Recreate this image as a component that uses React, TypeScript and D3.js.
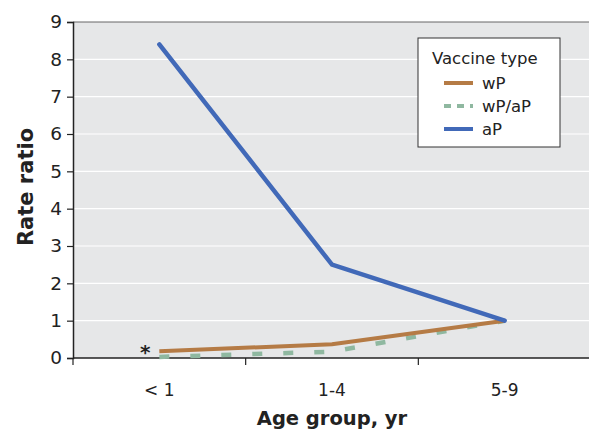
import React, { useEffect, useRef } from 'react';
import * as d3 from 'd3';

const ageGroups = ['< 1', '1-4', '5-9'];
const wP = [0.18, 0.37, 1.0];
const wPaP = [0.03, 0.17, 1.0];
const aP = [8.4, 2.5, 1.0];
const yTicks = [0, 1, 2, 3, 4, 5, 6, 7, 8, 9];
const legendItems = ['wP', 'wP/aP', 'aP'];

function App() {
  const svgRef = useRef<SVGSVGElement>(null);

  useEffect(() => {
    const svg = d3.select(svgRef.current);
    svg.selectAll('*').remove();

    const width = 589;
    const height = 432;
    const margin = { top: 22, right: 0, bottom: 74, left: 73 };
    const innerWidth = width - margin.left - margin.right;
    const innerHeight = height - margin.top - margin.bottom;
    const font = 'DejaVu Sans, sans-serif';

    const g = svg.append('g').attr('transform', `translate(${margin.left},${margin.top})`);

    const x = d3.scaleBand().domain(ageGroups).range([0, 518]);
    const y = d3.scaleLinear().domain([0, 9]).range([innerHeight, 0]);

    // plot background
    g.append('rect')
      .attr('width', innerWidth)
      .attr('height', innerHeight)
      .attr('fill', '#e6e7e8');
    g.append('line')
      .attr('x1', 0).attr('x2', innerWidth)
      .attr('y1', 0).attr('y2', 0)
      .attr('stroke', '#666').attr('stroke-width', 1);

    // gridlines
    g.selectAll('.grid')
      .data(yTicks.filter(d => d > 0 && d < 9))
      .enter()
      .append('line')
      .attr('x1', 0).attr('x2', innerWidth)
      .attr('y1', d => y(d)).attr('y2', d => y(d))
      .attr('stroke', '#fff').attr('stroke-width', 1.2);

    // y axis
    const yAxis = g.append('g').call(d3.axisLeft(y).tickValues(yTicks).tickSize(6).tickFormat(d3.format('d')));
    yAxis.select('.domain').attr('stroke', '#222').attr('stroke-width', 1.5);
    yAxis.selectAll('.tick line').attr('stroke', '#222').attr('stroke-width', 1.2);
    yAxis.selectAll('.tick text').attr('font-family', font).attr('font-size', 18.5).attr('fill', '#222').attr('x', -11);

    // x axis
    const xAxis = g.append('g')
      .attr('transform', `translate(0,${innerHeight})`)
      .call(d3.axisBottom(x).tickSize(0).tickSizeOuter(0));
    xAxis.select('.domain').attr('stroke', '#222').attr('stroke-width', 1.5).attr('d', `M0,0H${innerWidth}`);
    xAxis.selectAll('.tick text').attr('font-family', font).attr('font-size', 17).attr('fill', '#222')
      .attr('y', 26).attr('dy', '0.71em');
    // category separators
    xAxis.selectAll('.sep')
      .data(ageGroups.slice(1))
      .enter()
      .append('line')
      .attr('x1', d => x(d)!).attr('x2', d => x(d)!)
      .attr('y1', 0).attr('y2', 7)
      .attr('stroke', '#222').attr('stroke-width', 1.2);
    xAxis.append('line')
      .attr('x1', 0).attr('x2', 0).attr('y1', 0).attr('y2', 7)
      .attr('stroke', '#222').attr('stroke-width', 1.2);

    const line = d3.line<number>()
      .x((d, i) => x(ageGroups[i])! + x.bandwidth() / 2)
      .y(d => y(d));

    g.append('path').datum(wPaP).attr('fill', 'none')
      .attr('stroke', '#8fb8a0').attr('stroke-width', 4.5).attr('stroke-dasharray', '10,21')
      .attr('d', line);
    g.append('path').datum(wP).attr('fill', 'none')
      .attr('stroke', '#b57b45').attr('stroke-width', 4)
      .attr('d', line);
    g.append('path').datum(aP).attr('fill', 'none')
      .attr('stroke', '#4169b8').attr('stroke-width', 4.5).attr('stroke-linecap', 'round')
      .attr('d', line);

    // asterisk
    g.append('text')
      .attr('x', x(ageGroups[0])! + x.bandwidth() / 2 - 14)
      .attr('y', y(wP[0]) + 8)
      .attr('text-anchor', 'middle')
      .attr('font-family', font).attr('font-size', 20).attr('font-weight', 'bold').attr('fill', '#222')
      .text('*');

    // axis titles
    svg.append('text')
      .attr('transform', `translate(33,${margin.top + 165}) rotate(-90)`)
      .attr('text-anchor', 'middle')
      .attr('font-family', font).attr('font-size', 21).attr('font-weight', 'bold').attr('fill', '#222')
      .text('Rate ratio');
    svg.append('text')
      .attr('x', margin.left + 259)
      .attr('y', 425)
      .attr('text-anchor', 'middle')
      .attr('font-family', font).attr('font-size', 19.5).attr('font-weight', 'bold').attr('fill', '#222')
      .text('Age group, yr');

    // legend
    const lg = svg.append('g').attr('transform', 'translate(418,38)');
    lg.append('rect').attr('width', 142).attr('height', 109)
      .attr('fill', '#fff').attr('stroke', '#333').attr('stroke-width', 1);
    lg.append('text').attr('x', 14).attr('y', 26)
      .attr('font-family', font).attr('font-size', 16.5).attr('fill', '#222')
      .text('Vaccine type');
    const styles = [
      { color: '#b57b45', dash: null },
      { color: '#8fb8a0', dash: '7,6' },
      { color: '#4169b8', dash: null },
    ];
    legendItems.forEach((name, i) => {
      const yy = 51 + i * 23;
      lg.append('line').attr('x1', 26).attr('x2', 55).attr('y1', yy - 6).attr('y2', yy - 6)
        .attr('stroke', styles[i].color).attr('stroke-width', 4)
        .attr('stroke-dasharray', styles[i].dash);
      lg.append('text').attr('x', 64).attr('y', yy)
        .attr('font-family', font).attr('font-size', 16.5).attr('fill', '#222')
        .text(name);
    });
  }, []);

  return (
    <svg ref={svgRef} width={589} height={432} style={{ position: 'absolute', left: 0, top: 0 }}></svg>
  );
}

export default App;
